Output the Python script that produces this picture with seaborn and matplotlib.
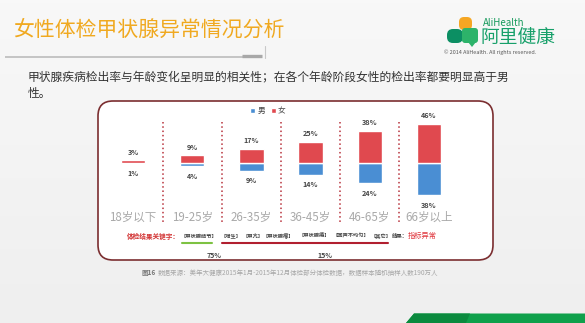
import numpy as np
import pandas as pd
import matplotlib
matplotlib.use("Agg")
import matplotlib.pyplot as plt
import matplotlib.transforms as mtransforms
from matplotlib.patches import FancyBboxPatch, Polygon, Patch
import seaborn as sns

# ---------------- data ----------------
categories = ["18岁以下", "19-25岁", "26-35岁", "36-45岁", "46-65岁", "66岁以上"]
female = [3, 9, 17, 25, 38, 46]
male = [1, 4, 9, 14, 24, 38]
series_names = ["男", "女"]
keyword_items = ["【甲状腺结节】", "【增生】", "【甲亢】", "【甲状腺瘤】", "【甲状腺癌】", "【回声不均匀】", "【其它】"]
share_labels = ["75%", "15%"]

title = "女性体检甲状腺异常情况分析"
subtitle1 = "甲状腺疾病检出率与年龄变化呈明显的相关性；在各个年龄阶段女性的检出率都要明显高于男"
subtitle2 = "性。"
footnote = "数据来源：美年大健康2015年1月-2015年12月体检部分体检数据，数据样本随机抽样人数190万人"

RED = "#E0494F"
BLUE = "#4A8ED3"

sns.set_style("white")
plt.rcParams["font.family"] = ["Noto Sans CJK SC", "DejaVu Sans"]
plt.rcParams["axes.unicode_minus"] = False

W, H = 585, 323
fig = plt.figure(figsize=(W / 100, H / 100), dpi=100)
fig.patch.set_facecolor("#F2F2F2")

# background / decoration axes in pixel coordinates
bg = fig.add_axes([0, 0, 1, 1], zorder=0)
bg.set_xlim(0, W)
bg.set_ylim(H, 0)
bg.axis("off")
grad = np.linspace(0, 1, 100).reshape(-1, 1)
bg.imshow(grad, extent=(0, W, H, 0), cmap=matplotlib.colors.LinearSegmentedColormap.from_list(
    "g", ["#F8F8F8", "#EFEFEF"]), aspect="auto", zorder=0)

# title
bg.text(13, 30, title, fontsize=15, color="#F0A920", va="center", ha="left")
bg.plot([5, 262], [57, 57], color="#C4C4C4", lw=1.4, solid_capstyle="butt")
bg.plot([242, 262], [56.2, 56.2], color="#A8A8A8", lw=2.4, solid_capstyle="butt")
bg.plot([264.5, 264.5], [46, 58], color="#C8C8C8", lw=0.8)

# logo
bg.add_patch(FancyBboxPatch((459, 17), 13, 13, boxstyle="round,pad=0,rounding_size=5",
                            fc="#F5A623", ec="none", zorder=2))
bg.add_patch(FancyBboxPatch((447, 29), 16, 14, boxstyle="round,pad=0,rounding_size=6",
                            fc="#0C8F63", ec="none", zorder=3))
bg.add_patch(FancyBboxPatch((462, 28), 16, 15, boxstyle="round,pad=0,rounding_size=3",
                            fc="#2DB36A", ec="none", zorder=3))
bg.add_patch(Polygon([[468, 42], [476, 42], [472, 47]], closed=True, fc="#2DB36A", ec="none", zorder=3))
bg.text(483, 23, "AliHealth", fontsize=7, color="#179A5C", va="center", ha="left")
bg.text(481, 37.5, "阿里健康", fontsize=13.5, color="#17A06A", va="center", ha="left")
bg.text(444, 52.5, "© 2014 AliHealth. All rights reserved.", fontsize=3.9, color="#555555",
        va="center", ha="left")

# subtitle
bg.text(28, 77, subtitle1, fontsize=8.5, color="#333333", va="center", ha="left")
bg.text(28, 94, subtitle2, fontsize=8.5, color="#333333", va="center", ha="left")

# frame
bg.add_patch(FancyBboxPatch((98, 101), 395, 159, boxstyle="round,pad=0,rounding_size=15",
                            fc="white", ec="#7B2E30", lw=1.2, zorder=1))

# keyword line
bg.text(127, 236, "体检结果关键字：", fontsize=4.8, color="#D23333", fontweight="bold",
        va="center", ha="left", zorder=4)
kw_x = [181, 221, 242, 263, 298, 332, 371]
for x, item in zip(kw_x, keyword_items):
    bg.text(x, 236, item, fontsize=3.8, color="#444444", fontweight="bold", va="center", ha="left", zorder=4)
bg.text(392, 236, "结果：", fontsize=3.9, color="#444444", fontweight="bold", va="center", ha="left", zorder=4)
bg.text(408, 236, "指标异常", fontsize=5.2, color="#E0333A", va="center", ha="left", zorder=4)
bg.plot([182, 212], [243, 243], color="#7DC242", lw=1.5, zorder=4)
bg.plot([222, 388], [243, 243], color="#B11F2F", lw=1.5, zorder=4)
bg.text(214, 255, share_labels[0], fontsize=5, color="#444444", fontweight="bold", va="center", ha="center", zorder=4)
bg.text(325, 255, share_labels[1], fontsize=5, color="#444444", fontweight="bold", va="center", ha="center", zorder=4)

# footnote
bg.text(142, 273, "图16", fontsize=4.7, color="#777777", fontweight="bold", va="center", ha="left")
bg.text(158, 273, footnote, fontsize=4.7, color="#A8A8A8", va="center", ha="left")

# green band bottom right
bg.add_patch(Polygon([[406, 323], [414, 313.5], [585, 313.5], [585, 323]], closed=True,
                     fc="#0FA04B", ec="none", zorder=2))
bg.add_patch(Polygon([[406, 323], [414, 313.5], [470, 313.5], [466, 323]], closed=True,
                     fc="#0B8A3E", ec="none", zorder=2))

# ---------------- chart axes ----------------
px_per_pct = 0.845
base_y = 163.0
x_left, x_right = 103.4, 458.6
ylo, yhi = -60, 60
top_px = base_y - yhi * px_per_pct
bot_px = base_y - ylo * px_per_pct
ax = fig.add_axes([x_left / W, 1 - bot_px / H, (x_right - x_left) / W, (bot_px - top_px) / H], zorder=2)
ax.patch.set_alpha(0)

df = pd.DataFrame({"age": categories, "female": female, "male": [-v for v in male]})
sns.barplot(data=df, x="age", y="male", color=BLUE, saturation=1, width=0.41, ax=ax, label=series_names[0])
sns.barplot(data=df, x="age", y="female", color=RED, saturation=1, width=0.41, ax=ax, label=series_names[1])
ax.set_xlim(-0.5, len(categories) - 0.5)
ax.set_ylim(ylo, yhi)
ax.axis("off")

for i, (f, m) in enumerate(zip(female, male)):
    ax.annotate(f"{f}%", (i, f), xytext=(0, 6), textcoords="offset points", ha="center", va="center",
                fontsize=5.2, fontweight="bold", color="#444444")
    ax.annotate(f"{m}%", (i, -m), xytext=(0, -7.2), textcoords="offset points", ha="center", va="center",
                fontsize=5.2, fontweight="bold", color="#444444")

blend = mtransforms.blended_transform_factory(ax.transData, bg.transData)
for i, c in enumerate(categories):
    ax.text(i, 217, c, transform=blend, ha="center", va="center", fontsize=8.3, color="#A9A9A9",
            clip_on=False)
for i in range(len(categories) - 1):
    ax.plot([i + 0.5, i + 0.5], [122, 224], transform=blend, color="#B8323C", lw=1.1,
            linestyle=(0, (1, 1.8)), clip_on=False)

handles = [Patch(facecolor=BLUE), Patch(facecolor=RED)]
ax.legend(handles, series_names, loc="center", bbox_to_anchor=(268 / W, 1 - 111 / H),
          bbox_transform=fig.transFigure, ncol=2, frameon=False, handlelength=0.6, handleheight=0.6,
          handletextpad=0.3, columnspacing=0.8, fontsize=5.5, labelcolor="#444444")

fig.savefig("out.png", dpi=100, facecolor=fig.get_facecolor())
